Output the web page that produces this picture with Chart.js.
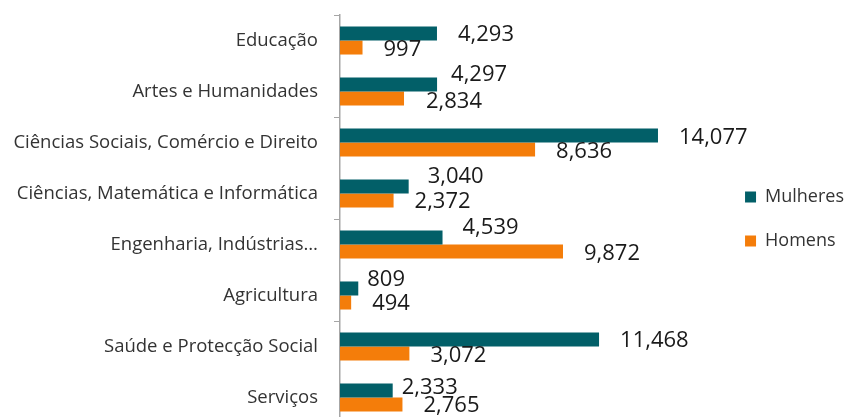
<!DOCTYPE html>
<html>
<head>
<meta charset="utf-8">
<script src="https://cdn.jsdelivr.net/npm/chart.js@4/dist/chart.umd.min.js"></script>
<style>
  html, body { margin: 0; padding: 0; background: #fff; overflow: hidden; }
  #wrap { width: 845px; height: 425px; }
</style>
</head>
<body>
<div id="wrap"><canvas id="areasChart"></canvas></div>
<script>
// categorias e valores
var categories = [
    "Educação",
    "Artes e Humanidades",
    "Ciências Sociais, Comércio e Direito",
    "Ciências, Matemática e Informática",
    "Engenharia, Indústrias…",
    "Agricultura",
    "Saúde e Protecção Social",
    "Serviços"
];
var mulheres = [4293, 4297, 14077, 3040, 4539, 809, 11468, 2333];
var homens = [997, 2834, 8636, 2372, 9872, 494, 3072, 2765];
var seriesNames = ["Mulheres", "Homens"];

var FONT = "'Open Sans', 'Noto Sans', sans-serif";

//plugin to write the value right of each bar
//(some labels were dragged by hand in the original, so nudges per label)
var valueLabels = {
    id: 'valueLabels',
    afterDatasetsDraw: function(chart, args, opts) {
        var ctx = chart.ctx;
        ctx.save();
        ctx.font = "22px " + FONT;
        ctx.fillStyle = "#1a1a1a";
        ctx.textAlign = "left";
        ctx.textBaseline = "middle";
        chart.data.datasets.forEach(function(ds, i) {
            var meta = chart.getDatasetMeta(i);
            var nudge = opts.nudge[i];
            meta.data.forEach(function(bar, j) {
                var txt = ds.data[j].toLocaleString('en-US');
                ctx.fillText(txt, bar.x + 21 + nudge.dx[j], bar.y + nudge.dy[j]);
            });
        });
        ctx.restore();
    }
};

var areasContext = document.getElementById('areasChart').getContext('2d');
var areasChart = new Chart(areasContext, {
    type: 'bar',
    data: {
        labels: categories,
        datasets: [{
            label: seriesNames[0],
            data: mulheres,
            backgroundColor: "#025f68",
            categoryPercentage: 0.55,
            barPercentage: 1.0
        },{
            label: seriesNames[1],
            data: homens,
            backgroundColor: "#f47d0a",
            categoryPercentage: 0.55,
            barPercentage: 1.0
        }] //end datasets
    },
    options: {
        indexAxis: 'y',
        responsive: true,
        maintainAspectRatio: false,
        animation: false,
        layout: {
            padding: { top: 15, bottom: 2, left: 0, right: -9 }
        },
        scales: {
            x: {
                display: false,
                min: 0,
                max: 16780
            },
            y: {
                afterFit: function(scale) {
                    scale.width = 340;
                    scale.paddingTop = 0;
                    scale.paddingBottom = 0;
                },
                border: { display: true, color: "#a6a6a6", width: 1.5 },
                grid: {
                    drawOnChartArea: false,
                    tickLength: 6,
                    color: function(c) { return c.index % 2 === 0 ? "#a6a6a6" : "rgba(0,0,0,0)"; }
                },
                ticks: {
                    padding: 16,
                    color: "#333333",
                    font: { family: FONT, size: 18.5 }
                }
            }
        },
        plugins: {
            legend: {
                position: 'right',
                labels: {
                    boxWidth: 11,
                    boxHeight: 11,
                    padding: 26,
                    color: "#333333",
                    font: { family: FONT, size: 18 }
                }
            },
            tooltip: { enabled: false },
            valueLabels: {
                nudge: [
                    { dx: [0, -7, 0, -2, -1, -12, 0, -12], dy: [1.5, -10, 2, -9.5, -10, -8.5, 1, -2.5] },
                    { dx: [0, 1, 0, 0, 0, 0, 0, 0], dy: [2.5, 3, 2.5, 1, 2.5, 1.5, 2, 1.5] }
                ]
            }
        }
    }, //end options
    plugins: [valueLabels]
}); //end areasChart var
</script>
</body>
</html>
